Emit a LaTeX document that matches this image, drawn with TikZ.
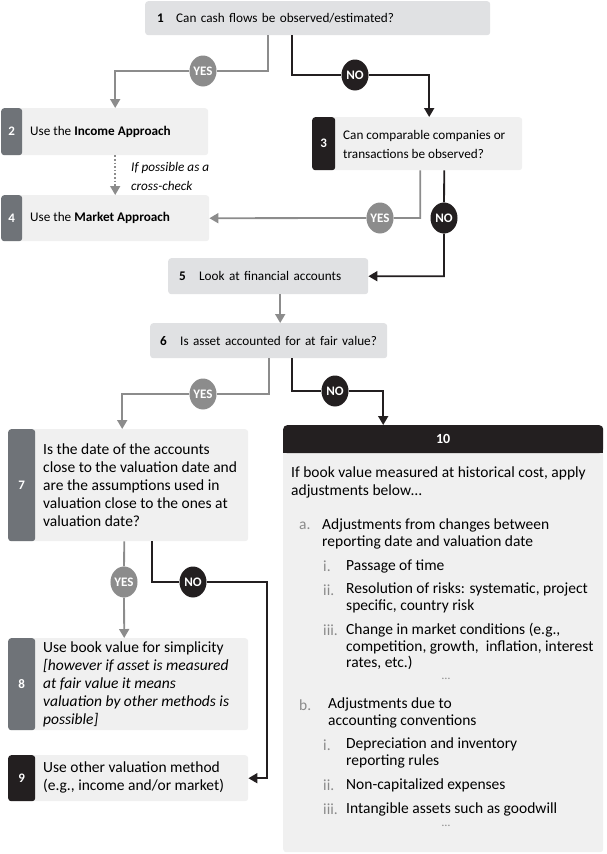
\documentclass[tikz,border=0pt]{standalone}
\usepackage{fontspec}
\setmainfont{Carlito}
\usetikzlibrary{arrows.meta,shapes.geometric}

\definecolor{ink}{HTML}{231F20}
\definecolor{tabgray}{HTML}{6F7378}
\definecolor{linegray}{HTML}{8C8C8C}
\definecolor{qgray}{HTML}{E0E1E3}
\definecolor{pale}{HTML}{F0F0F0}
\definecolor{labgray}{HTML}{8A8A8A}

\tikzset{
	qbox/.style={fill=qgray, rounded corners=3pt, anchor=north west, align=left, inner ysep=0pt, font=\fontsize{13.2}{19}\selectfont},
	palebox/.style={fill=pale, rounded corners=3pt, anchor=north west, inner sep=0pt},
	tabbox/.style={rounded corners=3pt, anchor=north west, inner sep=0pt, text=white, font=\bfseries\fontsize{13}{14}\selectfont},
	txt/.style={anchor=west, align=left, inner sep=0pt, font=\fontsize{13.2}{19}\selectfont},
	txtb/.style={txt, font=\fontsize{15.5}{18}\selectfont},
	item/.style={txt, font=\fontsize{15.5}{16.5}\selectfont},
	lab/.style={item, text=labgray},
	yescirc/.style={ellipse, fill=linegray, text=white, inner sep=0pt, minimum width=27pt, minimum height=31pt, font=\bfseries\fontsize{13}{13}\selectfont},
	nocirc/.style={yescirc, fill=ink},
	yesline/.style={draw=linegray, line width=1.8pt, -{Triangle[length=9pt,width=10pt]}},
	noline/.style={yesline, draw=ink},
}

\begin{document}
\begin{tikzpicture}[x=1pt,y=-1pt]
	\useasboundingbox (0,0) rectangle (606,854);
	
	% question boxes
	\node[qbox, minimum width=345, minimum height=34, text width=321, inner xsep=12pt] at (145,1) (b1) {\makebox[19pt][l]{\textbf{1}}Can cash flows be observed/estimated?};
	\node[qbox, minimum width=200, minimum height=36, text width=178, inner xsep=11pt] at (168,258) (b5) {\makebox[20pt][l]{\textbf{5}}Look at financial accounts};
	\node[qbox, minimum width=237, minimum height=35, text width=217, inner xsep=10pt] at (150,323) (b6) {\makebox[20pt][l]{\textbf{6}}Is asset accounted for at fair value?};
	
	% boxes with a tab
	\node[palebox, minimum width=207, minimum height=47] at (1,108) (b2) {};
	\node[tabbox, fill=tabgray, minimum width=21, minimum height=47] at (1,108) (t2) {2};
	\node[txt] at (30,131.5) (l2) {Use the \textbf{Income Approach}};
	
	\node[palebox, minimum width=210, minimum height=53] at (312,117) (b3) {};
	\node[tabbox, fill=ink, minimum width=23, minimum height=53] at (312,117) (t3) {3};
	\node[txt] at (343,144) (l3) {Can comparable companies or\\transactions be observed?};
	
	\node[palebox, minimum width=208, minimum height=46] at (1,195) (b4) {};
	\node[tabbox, fill=tabgray, minimum width=21, minimum height=46] at (1,195) (t4) {4};
	\node[txt] at (30,218) (l4) {Use the \textbf{Market Approach}};
	
	\node[palebox, minimum width=240, minimum height=112] at (8,429) (b7) {};
	\node[tabbox, fill=tabgray, minimum width=27, minimum height=112] at (8,429) (t7) {7};
	\node[txtb] at (43,485) (l7) {Is the date of the accounts\\close to the valuation date and\\are the assumptions used in\\valuation close to the ones at\\valuation date?};
	
	\node[palebox, minimum width=240, minimum height=92] at (8,638) (b8) {};
	\node[tabbox, fill=tabgray, minimum width=27, minimum height=92] at (8,638) (t8) {8};
	\node[txtb] at (43,684.5) (l8) {Use book value for simplicity\\\textit{[however if asset is measured}\\\textit{at fair value it means}\\\textit{valuation by other methods is}\\\textit{possible]}};
	
	\node[palebox, minimum width=240, minimum height=46] at (8,755) (b9) {};
	\node[tabbox, fill=ink, minimum width=27, minimum height=46] at (8,755) (t9) {9};
	\node[txtb] at (43,777) (l9) {Use other valuation method\\(e.g., income and/or market)};
	
	% box 10
	\node[palebox, minimum width=320, minimum height=427] at (283,425) (b10) {};
	\node[tabbox, fill=ink, minimum width=320, minimum height=28, rounded corners=4pt] at (283,425) (h10) {};
	\fill[ink] (283,446) rectangle (603,453);
	\node[text=white, font=\bfseries\fontsize{14}{14}\selectfont] at (h10.center) (n10) {10};
	\node[txtb] at (291,482) (intro) {If book value measured at historical cost, apply\\adjustments below\dots};
	
	\node[lab] at (299,526) (la) {a.};
	\node[item] at (322,534) (ta) {Adjustments from changes between\\reporting date and valuation date};
	\node[lab] at (323,566) (lai) {i.};
	\node[item] at (346,566) (tai) {Passage of time};
	\node[lab] at (323,590) (laii) {ii.};
	\node[item] at (346,598) (taii) {Resolution of risks: systematic, project\\specific, country risk};
	\node[lab] at (323,630) (laiii) {iii.};
	\node[item] at (346,646.5) (taiii) {Change in market conditions (e.g.,\\competition, growth,\ \ inflation, interest\\rates, etc.)};
	\node[lab, anchor=center, font=\fontsize{12}{12}\selectfont] at (446,679) (dotsa) {\dots};
	
	\node[lab] at (299,705) (lb) {b.};
	\node[item] at (328,713) (tb) {Adjustments due to\\accounting conventions};
	\node[lab] at (323,745) (lbi) {i.};
	\node[item] at (346,753) (tbi) {Depreciation and inventory\\reporting rules};
	\node[lab] at (323,785) (lbii) {ii.};
	\node[item] at (346,785) (tbii) {Non-capitalized expenses};
	\node[lab] at (323,809) (lbiii) {iii.};
	\node[item] at (346,809) (tbiii) {Intangible assets such as goodwill};
	\node[lab, anchor=center, font=\fontsize{12}{12}\selectfont] at (446,826) (dotsb) {\dots};
	
	% yes / no markers
	\node[yescirc] at (203,71) (yes1) {YES};
	\node[nocirc] at (355,75) (no1) {NO};
	\node[yescirc] at (380,218) (yes2) {YES};
	\node[nocirc] at (444,218) (no2) {NO};
	\node[yescirc] at (203,394) (yes3) {YES};
	\node[nocirc] at (335,391) (no3) {NO};
	\node[yescirc] at (124,582) (yes4) {YES};
	\node[nocirc] at (193,582) (no4) {NO};
	\coordinate (turn9) at (267,582);
	
	% connectors
	\draw[yesline] ([xshift=-49.5]b1.south) |- (yes1) -| ([xshift=10.5]b2.north);
	\draw[noline] ([xshift=-25.5]b1.south) |- (no1) -| ([xshift=12]b3.north);
	\draw[linegray, line width=1.6pt, dotted, -{Triangle[length=9pt,width=10pt]}] ([xshift=10.5]b2.south) -- ([xshift=10]b4.north);
	\node[txt, anchor=west] at (131,176) (cross) {\itshape If possible as a\\\itshape cross-check};
	\draw[yesline] ([xshift=3]b3.south) |- (yes2) -- (b4.east);
	\draw[noline] ([xshift=27]b3.south) -- (no2) |- (b5.east);
	\draw[yesline] ([xshift=12]b5.south) -- ([xshift=11.5]b6.north);
	\draw[yesline] (b6.south) |- (yes3) -| ([xshift=-6]b7.north);
	\draw[noline] ([xshift=23.5]b6.south) |- (no3) -| ([xshift=-60]b10.north);
	\draw[yesline] ([xshift=-4]b7.south) -- (yes4) -- ([xshift=-4]b8.north);
	\draw[noline] ([xshift=24]b7.south) |- (no4) -- (turn9) |- (b9.east);
\end{tikzpicture}
\end{document}
